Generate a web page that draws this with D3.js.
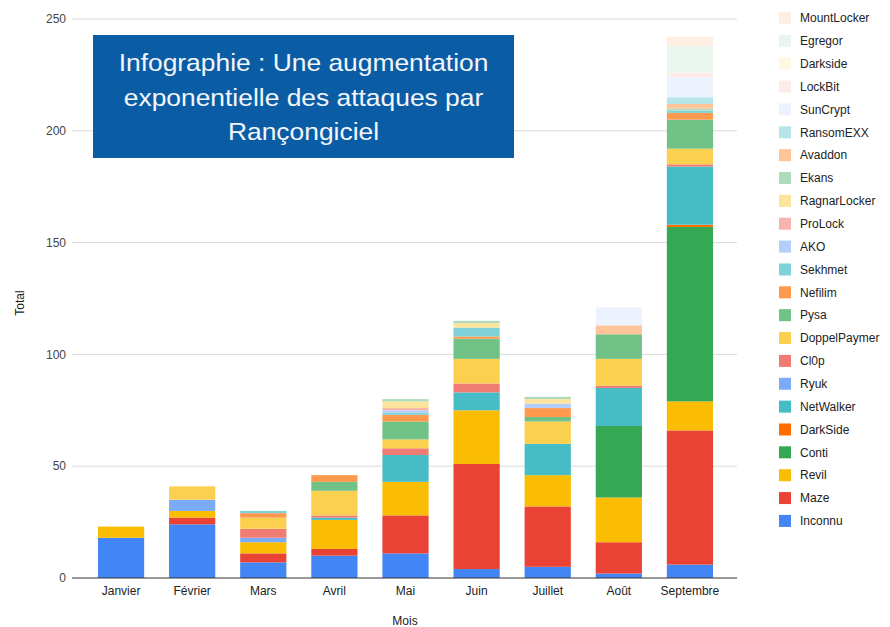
<!DOCTYPE html>
<html>
<head>
    <meta charset="UTF-8">
    <script src="https://d3js.org/d3.v7.min.js"></script>
    <style>
     body { margin: 0; background: #fff; }
     text { font-family: "Liberation Sans", Arial, sans-serif; }
    </style>
</head>

<body>
    <div id="chart"></div>
    <script>
     // Months on the x axis
     const months = ["Janvier", "Février", "Mars", "Avril", "Mai", "Juin", "Juillet", "Août", "Septembre"];

     // One array per ransomware group (stack order, bottom to top)
     const inconnu      = [18, 24, 7, 10, 11, 4, 5, 2, 6];
     const maze         = [0, 3, 4, 3, 17, 47, 27, 14, 60];
     const revil        = [5, 3, 5, 13, 15, 24, 14, 20, 13];
     const conti        = [0, 0, 0, 0, 0, 0, 0, 32, 78];
     const darkSide     = [0, 0, 0, 0, 0, 0, 0, 0, 1];
     const netWalker    = [0, 0, 0, 1, 12, 8, 14, 17, 26];
     const ryuk         = [0, 5, 2, 0, 0, 0, 0, 0, 0];
     const cl0p         = [0, 0, 4, 1, 3, 4, 0, 1, 1];
     const doppelPaymer = [0, 6, 5, 11, 4, 11, 10, 12, 7];
     const pysa         = [0, 0, 0, 4, 8, 9, 2, 11, 13];
     const nefilim      = [0, 0, 2, 3, 3, 1, 4, 0, 3];
     const sekhmet      = [0, 0, 1, 0, 1, 4, 0, 0, 1];
     const ako          = [0, 0, 0, 0, 1, 0, 2, 0, 0];
     const proLock      = [0, 0, 0, 0, 1, 0, 0, 0, 0];
     const ragnarLocker = [0, 0, 0, 0, 3, 2, 2, 0, 0];
     const ekans        = [0, 0, 0, 0, 1, 1, 1, 0, 1];
     const avaddon      = [0, 0, 0, 0, 0, 0, 0, 4, 2];
     const ransomEXX    = [0, 0, 0, 0, 0, 0, 0, 0, 3];
     const sunCrypt     = [0, 0, 0, 0, 0, 0, 0, 8, 9];
     const lockBit      = [0, 0, 0, 0, 0, 0, 0, 0, 2];
     const darkside2    = [0, 0, 0, 0, 0, 0, 0, 0, 0];
     const egregor      = [0, 0, 0, 0, 0, 0, 0, 0, 12];
     const mountLocker  = [0, 0, 0, 0, 0, 0, 0, 0, 4];

     const seriesNames = ["Inconnu", "Maze", "Revil", "Conti", "DarkSide", "NetWalker", "Ryuk", "Cl0p",
                          "DoppelPaymer", "Pysa", "Nefilim", "Sekhmet", "AKO", "ProLock", "RagnarLocker",
                          "Ekans", "Avaddon", "RansomEXX", "SunCrypt", "LockBit", "Darkside", "Egregor", "MountLocker"];
     const seriesValues = [inconnu, maze, revil, conti, darkSide, netWalker, ryuk, cl0p,
                           doppelPaymer, pysa, nefilim, sekhmet, ako, proLock, ragnarLocker,
                           ekans, avaddon, ransomEXX, sunCrypt, lockBit, darkside2, egregor, mountLocker];
     const seriesColors = ["#4285f4", "#ea4335", "#fbbc04", "#34a853", "#ff6d01", "#46bdc6", "#7baaf7", "#f07b72",
                           "#fcd04f", "#71c287", "#ff994d", "#7ed1d7", "#b3cefb", "#f7b4ae", "#fde49b",
                           "#aedcba", "#ffc599", "#b5e5e8", "#ecf3fe", "#fdebea", "#fef7e1", "#eaf6ed", "#ffeee2"];

     const yTicks = [0, 50, 100, 150, 200, 250];
     const titleLines = ["Infographie : Une augmentation", "exponentielle des attaques par", "Rançongiciel"];

     const width = 890, height = 627;
     const plot = {left: 72, right: 737, top: 19, bottom: 578};

     // table rows for d3.stack
     const table = months.map((m, i) => {
         let row = {month: m};
         seriesNames.forEach((s, j) => row[s] = seriesValues[j][i]);
         return row;
     });

     let svg = d3.select("#chart").append("svg")
                 .attr("width", width)
                 .attr("height", height);

     let x = d3.scaleBand()
               .domain(months)
               .range([85.5, 725.5])
               .paddingInner(0.35)
               .paddingOuter(0.175);
     let y = d3.scaleLinear()
               .domain([0, 250])
               .range([plot.bottom, plot.top]);
     let color = d3.scaleOrdinal().domain(seriesNames).range(seriesColors);

     // gridlines
     svg.append("g")
        .selectAll("line")
        .data(yTicks.filter(d => d > 0))
        .join("line")
        .attr("x1", plot.left).attr("x2", plot.right)
        .attr("y1", d => y(d)).attr("y2", d => y(d))
        .attr("stroke", "#d9d9d9").attr("stroke-width", 1);

     // y tick labels
     svg.append("g")
        .selectAll("text")
        .data(yTicks)
        .join("text")
        .attr("x", 66)
        .attr("y", d => y(d))
        .attr("dy", "0.35em")
        .attr("text-anchor", "end")
        .attr("font-size", 12)
        .attr("fill", "#444")
        .text(d => d);

     // stacked bars
     let stacked = d3.stack().keys(seriesNames)(table);
     svg.append("g")
        .selectAll("g")
        .data(stacked)
        .join("g")
        .attr("fill", d => color(d.key))
        .selectAll("rect")
        .data(d => d)
        .join("rect")
        .attr("x", d => x(d.data.month))
        .attr("y", d => y(d[1]))
        .attr("width", x.bandwidth())
        .attr("height", d => y(d[0]) - y(d[1]));

     // baseline
     svg.append("line")
        .attr("x1", plot.left).attr("x2", plot.right)
        .attr("y1", y(0)).attr("y2", y(0))
        .attr("stroke", "#333").attr("stroke-width", 1);

     // x tick labels
     svg.append("g")
        .selectAll("text")
        .data(months)
        .join("text")
        .attr("x", d => x(d) + x.bandwidth() / 2)
        .attr("y", 595)
        .attr("text-anchor", "middle")
        .attr("font-size", 12)
        .attr("fill", "#222")
        .text(d => d);

     // axis titles
     svg.append("text")
        .attr("x", 405).attr("y", 625)
        .attr("text-anchor", "middle")
        .attr("font-size", 12).attr("fill", "#222")
        .text("Mois");
     svg.append("text")
        .attr("transform", "translate(24,303) rotate(-90)")
        .attr("text-anchor", "middle")
        .attr("font-size", 12).attr("fill", "#222")
        .text("Total");

     // title box (text is a bit stretched horizontally in the original)
     svg.append("rect")
        .attr("x", 93).attr("y", 35)
        .attr("width", 421).attr("height", 123)
        .attr("fill", "#0a5da5");
     svg.append("g")
        .attr("transform", "translate(303.5,0) scale(1.1,1)")
        .selectAll("text")
        .data(titleLines)
        .join("text")
        .attr("x", 0)
        .attr("y", (d, i) => 71 + i * 34.7)
        .attr("text-anchor", "middle")
        .attr("font-size", 24)
        .attr("fill", "#f4f6fa")
        .text(d => d);

     // legend (top item = top of stack)
     let legendItems = seriesNames.slice().reverse();
     let legend = svg.append("g")
                     .selectAll("g")
                     .data(legendItems)
                     .join("g")
                     .attr("transform", (d, i) => `translate(779,${18 + i * 22.86})`);
     legend.append("rect")
           .attr("x", 0).attr("y", -6)
           .attr("width", 12).attr("height", 12)
           .attr("fill", d => color(d));
     legend.append("text")
           .attr("x", 21).attr("y", 0)
           .attr("dy", "0.35em")
           .attr("font-size", 12)
           .attr("fill", "#222")
           .text(d => d);
    </script>
</body>

</html>
